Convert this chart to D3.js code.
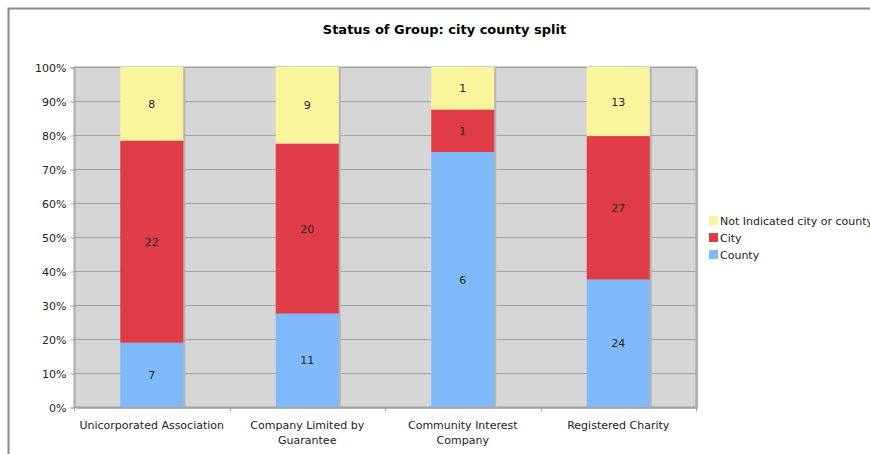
<!DOCTYPE html>
<html>
<head>
<meta charset="utf-8">
<script src="https://cdn.jsdelivr.net/npm/d3@7"></script>
<style>
  html, body { margin: 0; padding: 0; background: #fff; }
  svg { display: block; font-family: "DejaVu Sans", Verdana, sans-serif; }
</style>
</head>
<body>
<svg id="chart" width="870" height="454"></svg>
<script>
// Group types and their count of groups by location
const categories = ["Unicorporated Association", "Company Limited by Guarantee", "Community Interest Company", "Registered Charity"];
const categoryLines = [["Unicorporated Association"], ["Company Limited by", "Guarantee"], ["Community Interest", "Company"], ["Registered Charity"]];
const county = [7, 11, 6, 24];
const city = [22, 20, 1, 27];
const notIndicated = [8, 9, 1, 13];
const seriesNames = ["County", "City", "Not Indicated city or county"];
const seriesColors = ["#80b9f9", "#e03c47", "#faf59c"];
const yTicks = [0, 0.1, 0.2, 0.3, 0.4, 0.5, 0.6, 0.7, 0.8, 0.9, 1];

const svg = d3.select("#chart");

// outer chart frame
svg.append("rect").attr("x", 8.5).attr("y", 8.5).attr("width", 900).attr("height", 500)
  .attr("fill", "#fff").attr("stroke", "#8a8a8a").attr("stroke-width", 2);

svg.append("text").attr("x", 444.5).attr("y", 34).attr("text-anchor", "middle")
  .attr("font-size", 13).attr("font-weight", "bold").attr("fill", "#000")
  .text("Status of Group: city county split");

const plot = { left: 74, top: 67, right: 696, bottom: 407 };

const x = d3.scaleBand().domain(categories).range([plot.left, plot.right]).paddingInner(0.595).paddingOuter(0.2975);
const xBand = d3.scaleBand().domain(categories).range([plot.left, plot.right]);
const y = d3.scaleLinear().domain([0, 1]).range([plot.bottom, plot.top]);

// plot background with shadow
svg.append("rect").attr("x", plot.left + 2).attr("y", plot.top + 2)
  .attr("width", plot.right - plot.left).attr("height", plot.bottom - plot.top).attr("fill", "#b5b5b5");
svg.append("rect").attr("x", plot.left).attr("y", plot.top)
  .attr("width", plot.right - plot.left).attr("height", plot.bottom - plot.top)
  .attr("fill", "#d5d5d5").attr("stroke", "#a3a3a3").attr("stroke-width", 1);

// gridlines
svg.append("g").selectAll("line").data(yTicks.slice(1)).join("line")
  .attr("x1", plot.left).attr("x2", plot.right)
  .attr("y1", d => Math.round(y(d)) + 0.5).attr("y2", d => Math.round(y(d)) + 0.5)
  .attr("stroke", "#a3a3a3").attr("stroke-width", 1);

// y axis
const yAxis = d3.axisLeft(y).tickValues(yTicks).tickFormat(d3.format(".0%")).tickSize(4).tickPadding(4);
const gy = svg.append("g").attr("transform", `translate(${plot.left + 0.5},0.5)`).call(yAxis);
gy.select(".domain").attr("stroke", "#a3a3a3");
gy.selectAll(".tick line").attr("stroke", "#a3a3a3");
gy.selectAll(".tick text").attr("font-size", 11).attr("fill", "#222").attr("font-family", "DejaVu Sans, Verdana, sans-serif");

// stacked percentage data
const rows = categories.map((c, i) => ({ cat: c, County: county[i], City: city[i], "Not Indicated city or county": notIndicated[i] }));
const stack = d3.stack().keys(seriesNames).offset(d3.stackOffsetExpand);
const layers = stack(rows);

const gBars = svg.append("g");
layers.forEach((layer, li) => {
  // bar shadow on right side
  gBars.selectAll(null).data(layer).join("rect")
    .attr("x", d => x(d.data.cat) + 2).attr("width", x.bandwidth())
    .attr("y", d => y(d[1])).attr("height", d => y(d[0]) - y(d[1]))
    .attr("fill", "#b3b3b3");
});
layers.forEach((layer, li) => {
  gBars.selectAll(null).data(layer).join("rect")
    .attr("x", d => x(d.data.cat)).attr("width", x.bandwidth())
    .attr("y", d => y(d[1])).attr("height", d => y(d[0]) - y(d[1]))
    .attr("fill", seriesColors[li]);
});
layers.forEach((layer, li) => {
  gBars.selectAll(null).data(layer).join("text")
    .attr("x", d => x(d.data.cat) + x.bandwidth() / 2)
    .attr("y", d => (y(d[0]) + y(d[1])) / 2 + 4)
    .attr("text-anchor", "middle").attr("font-size", 11).attr("fill", "#222")
    .text(d => d.data[layer.key]);
});

// x axis
const gx = svg.append("g").attr("transform", `translate(0,${plot.bottom + 0.5})`);
gx.append("line").attr("x1", plot.left).attr("x2", plot.right).attr("stroke", "#a3a3a3");
const bounds = [plot.left].concat(categories.map(c => xBand(c) + xBand.bandwidth()));
gx.selectAll(".tk").data(bounds).join("line")
  .attr("x1", d => Math.round(d) + 0.5).attr("x2", d => Math.round(d) + 0.5)
  .attr("y1", 0).attr("y2", 4).attr("stroke", "#a3a3a3");
categories.forEach((c, i) => {
  const t = gx.append("text").attr("text-anchor", "middle").attr("font-size", 11).attr("fill", "#222")
    .attr("x", xBand(c) + xBand.bandwidth() / 2).attr("y", 21);
  categoryLines[i].forEach((ln, j) => {
    t.append("tspan").attr("x", xBand(c) + xBand.bandwidth() / 2).attr("dy", j === 0 ? 0 : 15).text(ln);
  });
});

// legend (top entry is the top of the stack)
const legendItems = seriesNames.map((n, i) => ({ name: n, color: seriesColors[i] })).reverse();
const lg = svg.append("g").attr("transform", "translate(709,216)");
legendItems.forEach((d, i) => {
  lg.append("rect").attr("x", 0).attr("y", i * 17).attr("width", 9).attr("height", 9).attr("fill", d.color);
  lg.append("text").attr("x", 11).attr("y", i * 17 + 9).attr("font-size", 11).attr("fill", "#222").text(d.name);
});
</script>
</body>
</html>
